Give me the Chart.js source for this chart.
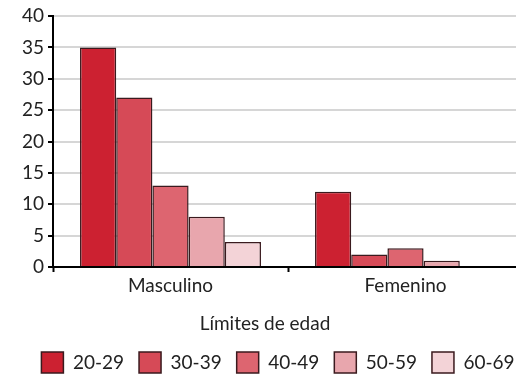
<!DOCTYPE html>
<html>
<head>
    <meta charset="utf-8">
    <title>Límites de edad</title>
    <script src="https://cdn.jsdelivr.net/npm/chart.js"></script>
    <style>
        body {
            margin: 0;
            overflow: hidden;
            background: #fff;
            font-family: Lato, sans-serif;
        }
        .wrap {
            position: relative;
            width: 560px;
            height: 375px;
        }
        .axis-title {
            position: absolute;
            left: 0;
            width: 530px;
            top: 311px;
            text-align: center;
            font-size: 19px;
            color: #222;
        }
    </style>
</head>
<body>
    <div class="wrap">
        <canvas id="chart" width="560" height="375"></canvas>
        <div class="axis-title">Límites de edad</div>
    </div>
    <script>
const categories = ["Masculino", "Femenino"];
const ageGroups = ["20-29", "30-39", "40-49", "50-59", "60-69"];
const g20 = [35, 12];
const g30 = [27, 2];
const g40 = [13, 3];
const g50 = [8, 1];
const g60 = [4, 0];
const yTicks = [0, 5, 10, 15, 20, 25, 30, 35, 40];
const colors = ["#cc2131", "#d64a57", "#dd6570", "#e8a6ad", "#f3d3d7"];

const series = [g20, g30, g40, g50, g60];
const datasets = series.map((vals, i) => ({
    label: ageGroups[i],
    data: vals,
    backgroundColor: colors[i],
    borderColor: "#3a1a1e",
    borderWidth: 1.5,
    categoryPercentage: 0.77,
    barPercentage: 1.0
}));

// canvas is wider than the window; the right part is cut off like in the original
new Chart(document.getElementById("chart"), {
    type: "bar",
    data: { labels: categories, datasets: datasets },
    options: {
        responsive: false,
        animation: false,
        layout: { padding: { left: 13, right: 17, top: 16, bottom: -8 } },
        plugins: {
            tooltip: { enabled: false },
            legend: {
                position: "bottom",
                labels: {
                    boxWidth: 22,
                    boxHeight: 21,
                    padding: 15,
                    color: "#222",
                    font: { family: "Lato", size: 19 }
                }
            }
        },
        scales: {
            x: {
                afterFit: (scale) => { scale.height = 70; },
                border: { color: "#000", width: 2 },
                grid: {
                    offset: true,
                    drawOnChartArea: false,
                    color: "#000",
                    tickColor: "#000",
                    tickLength: 5,
                    tickWidth: 2
                },
                ticks: {
                    color: "#222",
                    padding: 2,
                    font: { family: "Lato", size: 19 }
                }
            },
            y: {
                min: 0,
                max: 40,
                afterFit: (scale) => { scale.width = 40; },
                afterBuildTicks: (scale) => { scale.ticks = yTicks.map(v => ({ value: v })); },
                border: { color: "#000", width: 2 },
                grid: {
                    color: "#d6d6d6",
                    lineWidth: 2,
                    tickColor: "#000",
                    tickLength: 5,
                    tickWidth: 2
                },
                ticks: {
                    color: "#222",
                    padding: 4,
                    font: { family: "Lato", size: 19 }
                }
            },
            // empty right axis, only to give the legend more room than the plot
            spacer: {
                position: "right",
                afterFit: (scale) => { scale.width = 20; },
                grid: { display: false },
                border: { display: false },
                ticks: { display: false }
            }
        }
    }
});
    </script>
</body>
</html>
